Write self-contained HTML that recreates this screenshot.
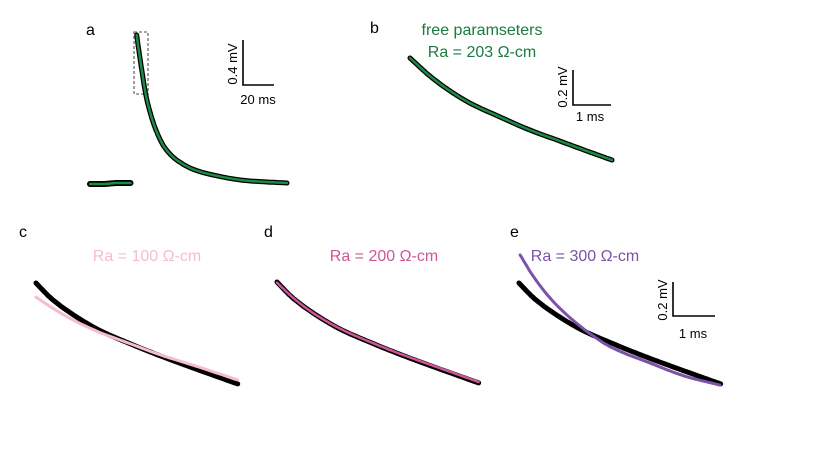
<!DOCTYPE html>
<html><head><meta charset="utf-8"><style>
html,body{margin:0;padding:0;background:#fff;}
svg{display:block;font-family:"Liberation Sans",sans-serif;}
</style></head><body>
<svg id="fig" width="819" height="460" viewBox="0 0 819 460">
<g>
<text x="86" y="35" font-size="16">a</text>
<rect x="134" y="32" width="14" height="62" fill="none" stroke="#888" stroke-width="1.6" stroke-dasharray="3,2"/>
<path d="M243,40 V85 H274" fill="none" stroke="#000" stroke-width="1.6"/>
<text transform="translate(237,64) rotate(-90)" text-anchor="middle" font-size="13">0.4 mV</text>
<text x="258" y="104" text-anchor="middle" font-size="13">20 ms</text>
<g id="ga"></g>
</g>
<g>
<text x="370" y="33" font-size="16">b</text>
<text x="482" y="35" text-anchor="middle" font-size="16" fill="#1a7a40">free paramseters</text>
<text x="482" y="57" text-anchor="middle" font-size="16" fill="#1a7a40">Ra = 203 Ω-cm</text>
<path d="M573,70 V105 H611" fill="none" stroke="#000" stroke-width="1.6"/>
<text transform="translate(567,87) rotate(-90)" text-anchor="middle" font-size="13">0.2 mV</text>
<text x="590" y="121" text-anchor="middle" font-size="13">1 ms</text>
<g id="gb"></g>
</g>
<g>
<text x="19" y="237" font-size="16">c</text>
<text x="147" y="261" text-anchor="middle" font-size="16" fill="#f6bccb">Ra = 100 Ω-cm</text>
<g id="gc"></g>
</g>
<g>
<text x="264" y="237" font-size="16">d</text>
<text x="384" y="261" text-anchor="middle" font-size="16" fill="#cf5598">Ra = 200 Ω-cm</text>
<g id="gd"></g>
</g>
<g>
<text x="510" y="237" font-size="16">e</text>
<text x="585" y="261" text-anchor="middle" font-size="16" fill="#7b52a8">Ra = 300 Ω-cm</text>
<path d="M673,282 V316 H715" fill="none" stroke="#000" stroke-width="1.6"/>
<text transform="translate(667,300) rotate(-90)" text-anchor="middle" font-size="13">0.2 mV</text>
<text x="693" y="338" text-anchor="middle" font-size="13">1 ms</text>
<g id="ge"></g>
</g>
</svg>
<script>
// panel a (ms, mV)
const aBaseT = [0, 9, 18, 27];
const aBaseV = [0.0, 0.0, 0.01, 0.01];
const aDecayT = [31.1, 34.5, 37.8, 44.5, 50, 57.8, 70, 82, 104.7, 131.3];
const aDecayV = [1.49, 1.14, 0.85, 0.52, 0.36, 0.24, 0.14, 0.09, 0.033, 0.01];
// panel b
const bT = [0, 0.54, 1.08, 1.62, 2.43, 3.24, 4.05, 4.86, 5.46];
const bV = [0.563, 0.468, 0.390, 0.326, 0.253, 0.184, 0.126, 0.068, 0.026];
// panels c-e share time base and recorded trace
const zoomT = [0, 0.4, 0.9, 1.7, 2.5, 3.3, 4.4, 5.45];
const recordV = [0.563, 0.484, 0.410, 0.316, 0.247, 0.184, 0.105, 0.032];
const fit100V = [0.489, 0.437, 0.379, 0.305, 0.247, 0.189, 0.121, 0.053];
const fit200V = [0.560, 0.486, 0.410, 0.318, 0.249, 0.187, 0.110, 0.037];
const fit300T = [0.03, 0.38, 0.84, 1.29, 2.0, 2.46, 3.54, 4.53, 5.43];
const fit300V = [0.711, 0.600, 0.484, 0.396, 0.285, 0.228, 0.142, 0.070, 0.026];

function axes(x0, y0, pxPerMs, pxPerMv){
  return {x: t => x0 + t*pxPerMs, y: v => y0 - v*pxPerMv};
}
// monotone cubic (Fritsch-Carlson) through data, sampled densely
function pathD(ts, vs, ax){
  const n = ts.length, d = [], m = new Array(n);
  for(let i=0;i<n-1;i++) d.push((vs[i+1]-vs[i])/(ts[i+1]-ts[i]));
  m[0]=d[0]; m[n-1]=d[n-2];
  for(let i=1;i<n-1;i++){
    if(d[i-1]*d[i]<=0) m[i]=0;
    else { const h0=ts[i]-ts[i-1], h1=ts[i+1]-ts[i]; const w1=2*h1+h0, w2=h1+2*h0; m[i]=(w1+w2)/(w1/d[i-1]+w2/d[i]); }
  }
  const pts=[];
  for(let i=0;i<n-1;i++){
    const h=ts[i+1]-ts[i];
    for(let k=0;k<12;k++){
      const s=k/12, s2=s*s, s3=s2*s;
      const v=(2*s3-3*s2+1)*vs[i]+(s3-2*s2+s)*h*m[i]+(-2*s3+3*s2)*vs[i+1]+(s3-s2)*h*m[i+1];
      pts.push([ax.x(ts[i]+s*h), ax.y(v)]);
    }
  }
  pts.push([ax.x(ts[n-1]), ax.y(vs[n-1])]);
  return 'M'+pts.map(p=>p[0].toFixed(1)+','+p[1].toFixed(1)).join(' L');
}
const NS='http://www.w3.org/2000/svg';
function line(gid, ts, vs, ax, color, w, name){
  const el=document.createElementNS(NS,'path');
  el.setAttribute('d', pathD(ts, vs, ax));
  el.setAttribute('fill','none');
  el.setAttribute('stroke',color);
  el.setAttribute('stroke-width',w);
  el.setAttribute('stroke-linecap','round');
  el.setAttribute('stroke-linejoin','round');
  
  
  document.getElementById(gid).appendChild(el);
}
const axA = axes(90, 184, 1.5, 100);
line('ga', aBaseT, aBaseV, axA, '#000', 6, 'recorded-baseline');
line('ga', aBaseT, aBaseV, axA, '#1a8a45', 2.5, 'fit-baseline');
line('ga', aDecayT, aDecayV, axA, '#000', 5, 'recorded-decay');
line('ga', aDecayT, aDecayV, axA, '#1a8a45', 2.5, 'fit-decay');
const axB = axes(410, 165, 37, 190);
line('gb', bT, bV, axB, '#000', 5, 'recorded-trace-b');
line('gb', bT, bV, axB, '#1a8a45', 2.5, 'fit-trace-b');
const axC = axes(36, 390, 37, 190);
line('gc', zoomT, recordV, axC, '#000', 5, 'recorded-trace-c');
line('gc', zoomT, fit100V, axC, '#f6bccb', 3, 'fit-ra-100');
const axD = axes(277, 389, 37, 190);
line('gd', zoomT, recordV, axD, '#000', 5, 'recorded-trace-d');
line('gd', zoomT, fit200V, axD, '#cf5598', 2.5, 'fit-ra-200');
const axE = axes(519, 390, 37, 190);
line('ge', zoomT, recordV, axE, '#000', 5, 'recorded-trace-e');
line('ge', fit300T, fit300V, axE, '#7b52a8', 3, 'fit-ra-300');
</script>
</body></html>
